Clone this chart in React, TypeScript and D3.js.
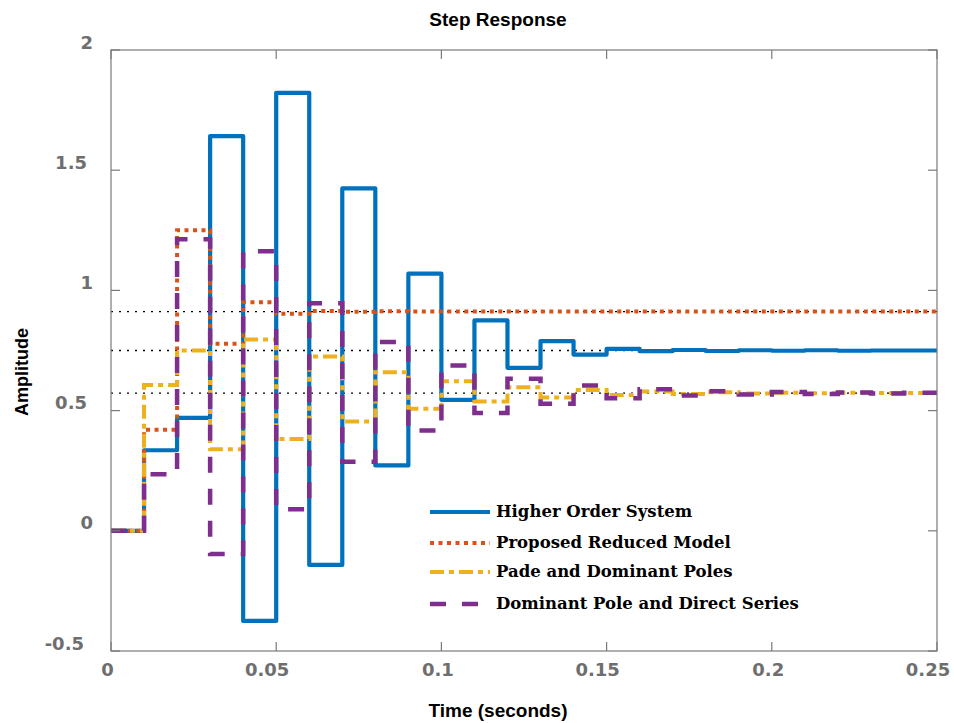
import React from 'react';
import * as d3 from 'd3';

// sampled step responses, Ts = 0.01 s, k = 0..24
const sampleTime = 0.01;
const higherOrder = [0, 0.335, 0.47, 1.642, -0.375, 1.822, -0.142, 1.424, 0.272, 1.07, 0.545, 0.875, 0.678, 0.789, 0.733, 0.757, 0.747, 0.752, 0.748, 0.751, 0.749, 0.751, 0.749, 0.75, 0.75];
const proposedModel = [0, 0.42, 1.25, 0.778, 0.951, 0.903, 0.914, 0.911, 0.913, 0.912, 0.912, 0.912, 0.912, 0.912, 0.912, 0.912, 0.912, 0.912, 0.912, 0.912, 0.912, 0.912, 0.912, 0.912, 0.912];
const padeDominant = [0, 0.607, 0.75, 0.339, 0.796, 0.382, 0.725, 0.455, 0.66, 0.508, 0.622, 0.5375, 0.597, 0.555, 0.586, 0.565, 0.579, 0.569, 0.576, 0.571, 0.574, 0.572, 0.574, 0.573, 0.573];
const dominantDirect = [0, 0.235, 1.2125, -0.097, 1.1625, 0.09, 0.947, 0.2875, 0.785, 0.417, 0.6875, 0.49, 0.632, 0.529, 0.604, 0.551, 0.589, 0.5625, 0.581, 0.567, 0.577, 0.569, 0.575, 0.571, 0.574];
const steadyStates = [0.912, 0.75, 0.573];

const seriesNames = ['Higher Order System', 'Proposed Reduced Model', 'Pade and Dominant Poles', 'Dominant Pole and Direct Series'];
const xTicks = [0, 0.05, 0.1, 0.15, 0.2, 0.25];
const xTickLabels = ['0', '0.05', '0.1', '0.15', '0.2', '0.25'];
const yTicks = [-0.5, 0, 0.5, 1, 1.5, 2];
const yTickLabels = ['-0.5', '0', '0.5', '1', '1.5', '2'];

const W = 954, H = 723;
const left = 111, right = 937, top = 50, bottom = 651;

const styles = [
  { color: '#0072BD', width: 4.2, dash: 'none' },
  { color: '#D95319', width: 4, dash: '4 4.5' },
  { color: '#EDB120', width: 4, dash: '14 5 5 5' },
  { color: '#7E2F8E', width: 4.5, dash: '16 16' },
];

const App: React.FC = () => {
  const x = d3.scaleLinear().domain([0, 0.25]).range([left, right]);
  const y = d3.scaleLinear().domain([-0.5, 2]).range([bottom, top]);

  const line = d3.line<[number, number]>()
    .x(d => x(d[0]))
    .y(d => y(d[1]))
    .curve(d3.curveStepAfter);

  const toPoints = (vals: number[]): [number, number][] => {
    const pts: [number, number][] = vals.map((v, k) => [k * sampleTime, v]);
    pts.push([0.25, vals[vals.length - 1]]);
    return pts;
  };

  const series = [higherOrder, proposedModel, padeDominant, dominantDirect];
  const axisColor = '#7a7a7a';
  const tickFont = { fontFamily: 'DejaVu Sans', fontWeight: 'bold' as const, fontSize: 18, fill: '#6e6e6e' };

  const legendY = [512, 543, 572, 604];

  return (
    <svg width={W} height={H} style={{ position: 'absolute', left: 0, top: 0, background: '#fff' }}>
      {/* steady-state markers */}
      {steadyStates.map((v, i) => (
        <line key={'ss' + i} x1={left} x2={right} y1={y(v)} y2={y(v)}
          stroke="#000" strokeWidth={1.3} strokeDasharray="2 6" />
      ))}

      {series.map((vals, i) => (
        <path key={'s' + i} d={line(toPoints(vals)) || ''} fill="none"
          stroke={styles[i].color} strokeWidth={styles[i].width}
          strokeDasharray={styles[i].dash} strokeLinejoin={i === 0 ? 'round' : 'miter'} />
      ))}

      {/* axes box */}
      <rect x={left} y={top} width={right - left} height={bottom - top} fill="none" stroke={axisColor} strokeWidth={1.2} />
      {xTicks.map((t, i) => (
        <g key={'xt' + i}>
          <line x1={x(t)} x2={x(t)} y1={bottom} y2={bottom - 9} stroke={axisColor} strokeWidth={1.2} />
          <line x1={x(t)} x2={x(t)} y1={top} y2={top + 9} stroke={axisColor} strokeWidth={1.2} />
          <text x={x(t) - (xTickLabels[i].length > 3 ? 9 : 3.5)} y={675.5} textAnchor="middle" {...tickFont}>{xTickLabels[i]}</text>
        </g>
      ))}
      {yTicks.map((t, i) => (
        <g key={'yt' + i}>
          <line x1={left} x2={left + 9} y1={y(t)} y2={y(t)} stroke={axisColor} strokeWidth={1.2} />
          <line x1={right} x2={right - 9} y1={y(t)} y2={y(t)} stroke={axisColor} strokeWidth={1.2} />
          <text x={93 - (yTickLabels[i].length - 1) * 3} y={y(t) - 1.5} textAnchor="end" {...tickFont}>{yTickLabels[i]}</text>
        </g>
      ))}

      {/* titles */}
      <text x={498} y={26} textAnchor="middle" fontFamily="Liberation Sans, Arial" fontWeight="bold" fontSize={19}>Step Response</text>
      <text x={498} y={717} textAnchor="middle" fontFamily="Liberation Sans, Arial" fontWeight="bold" fontSize={19}>Time (seconds)</text>
      <text transform="translate(28,372) rotate(-90)" textAnchor="middle" fontFamily="Liberation Sans, Arial" fontWeight="bold" fontSize={18}>Amplitude</text>

      {/* legend */}
      {seriesNames.map((name, i) => (
        <g key={'lg' + i}>
          <line x1={430} x2={490} y1={legendY[i]} y2={legendY[i]} stroke={styles[i].color}
            strokeWidth={styles[i].width} strokeDasharray={styles[i].dash} />
          <text x={496} y={legendY[i] + 4.5} fontFamily="DejaVu Serif" fontWeight="bold" fontSize={16.5}>{name}</text>
        </g>
      ))}
    </svg>
  );
};

export default App;
